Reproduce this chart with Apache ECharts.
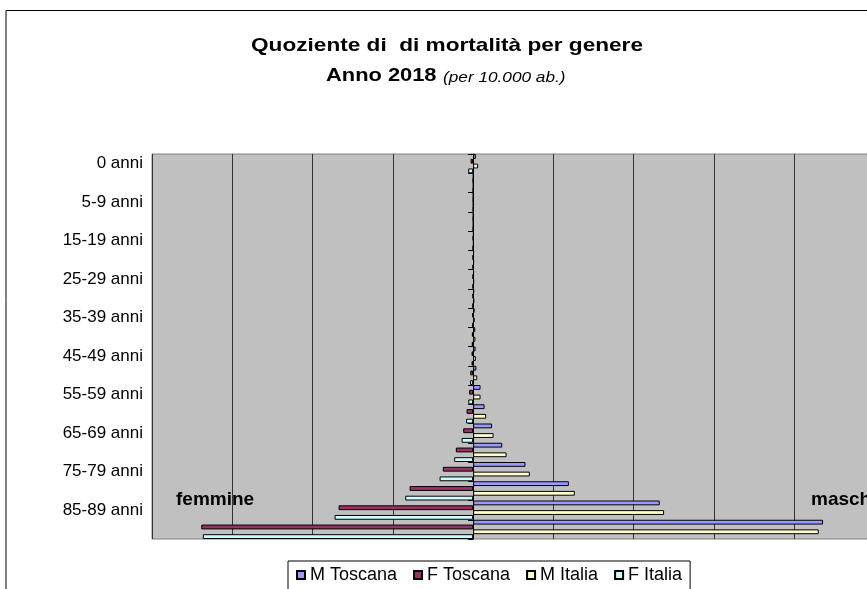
<!DOCTYPE html>
<html>
<head>
<meta charset="utf-8">
<script src="https://cdn.jsdelivr.net/npm/echarts@6/dist/echarts.min.js"></script>
<style>
  html, body { margin: 0; padding: 0; background: #fff; }
  #chart { width: 867px; height: 589px; }
</style>
</head>
<body>
<div id="chart"></div>
<script>
// classi di età (dall'alto in basso)
var categories = ['0 anni', '1-4 anni', '5-9 anni', '10-14 anni', '15-19 anni', '20-24 anni',
  '25-29 anni', '30-34 anni', '35-39 anni', '40-44 anni', '45-49 anni', '50-54 anni',
  '55-59 anni', '60-64 anni', '65-69 anni', '70-74 anni', '75-79 anni', '80-84 anni',
  '85-89 anni', '90 anni e più'];

// quozienti per 10.000 ab.
var mToscana = [17, 1.5, 0.8, 1, 3, 5, 5, 6, 9, 13, 15, 20, 46, 71, 118, 181, 326, 596, 1162, 2179];
var fToscana = [16, 1.2, 0.7, 0.8, 1.3, 1.8, 2, 3, 5, 8, 10, 18, 25, 41, 62, 108, 189, 396, 838, 1693];
var mItalia  = [31, 1.5, 0.9, 1.1, 3, 5.5, 6, 7, 9.5, 14, 17, 25, 46, 81, 127, 208, 353, 633, 1189, 2152];
var fItalia  = [31, 1.3, 0.7, 0.8, 1.4, 2, 2.4, 3.5, 5.5, 8.5, 10, 19, 30, 44, 72, 118, 209, 423, 863, 1683];

var FONT = "'Liberation Sans', Arial, sans-serif";

function neg(arr) {
  return arr.map(function (v) { return -v; });
}

function barSeries(name, data, color) {
  return {
    name: name,
    type: 'bar',
    yAxisIndex: 0,
    barGap: '0%',
    barCategoryGap: '0%',
    itemStyle: { color: color, borderColor: '#000', borderWidth: 1 },
    emphasis: { disabled: true },
    data: data
  };
}

var chart = echarts.init(document.getElementById('chart'));

var option = {
  backgroundColor: '#fff',
  animation: false,
  graphic: [
    {
      type: 'rect', silent: true, z: -10,
      shape: { x: 6, y: 10.5, width: 900, height: 620 },
      style: { fill: 'none', stroke: '#000', lineWidth: 1 }
    },
    {
      type: 'text', x: 447, y: 46, scaleX: 1.19,
      style: { text: 'Quoziente di  di mortalità per genere', font: 'bold 19px ' + FONT,
        fill: '#000', align: 'center', verticalAlign: 'middle' }
    },
    {
      type: 'text', x: 326, y: 76, scaleX: 1.15,
      style: { text: 'Anno 2018', font: 'bold 19px ' + FONT,
        fill: '#000', align: 'left', verticalAlign: 'middle' }
    },
    {
      type: 'text', x: 443, y: 77.7, scaleX: 1.23,
      style: { text: '(per 10.000 ab.)', font: 'italic 14px ' + FONT,
        fill: '#000', align: 'left', verticalAlign: 'middle' }
    },
    {
      type: 'text', x: 176, y: 500, z: 10,
      style: { text: 'femmine', font: 'bold 19px ' + FONT,
        fill: '#000', align: 'left', verticalAlign: 'middle' }
    },
    {
      type: 'text', x: 811, y: 500, z: 10,
      style: { text: 'maschi', font: 'bold 19px ' + FONT,
        fill: '#000', align: 'left', verticalAlign: 'middle' }
    }
  ],
  legend: {
    left: 288,
    top: 561,
    padding: [5, 8, 6, 8],
    borderColor: '#000',
    borderWidth: 1,
    itemWidth: 8,
    itemHeight: 8,
    itemGap: 16,
    icon: 'rect',
    textStyle: { fontFamily: FONT, fontSize: 18, color: '#000' },
    data: ['M Toscana', 'F Toscana', 'M Italia', 'F Italia']
  },
  grid: {
    left: 152,
    top: 154,
    width: 722.6,
    height: 385,
    show: true,
    backgroundColor: '#C0C0C0',
    borderColor: '#808080',
    borderWidth: 1,
    containLabel: false,
    outerBoundsMode: 'none'
  },
  xAxis: {
    type: 'value',
    min: -2000,
    max: 2500,
    interval: 500,
    axisLine: { show: false },
    axisTick: { show: false },
    axisLabel: { show: false },
    splitLine: { show: true, lineStyle: { color: '#333', width: 1 } }
  },
  yAxis: [
    {
      type: 'category',
      data: categories,
      inverse: true,
      position: 'left',
      axisLine: { show: false, onZero: false },
      axisTick: { show: false },
      axisLabel: { interval: 1, fontFamily: FONT, fontSize: 17, color: '#000', margin: 9 },
      splitLine: { show: false }
    },
    {
      type: 'category',
      data: categories,
      inverse: true,
      position: 'left',
      axisLine: { show: true, onZero: true, onZeroAxisIndex: 0, lineStyle: { color: '#000', width: 1 } },
      axisTick: { show: true, interval: 0, length: 5, inside: false, lineStyle: { color: '#000' } },
      axisLabel: { show: false },
      splitLine: { show: false }
    }
  ],
  series: [
    barSeries('M Toscana', mToscana, '#9999FF'),
    barSeries('F Toscana', neg(fToscana), '#993366'),
    barSeries('M Italia', mItalia, '#FFFFCC'),
    barSeries('F Italia', neg(fItalia), '#CCFFFF')
  ]
};

chart.setOption(option);
</script>
</body>
</html>
